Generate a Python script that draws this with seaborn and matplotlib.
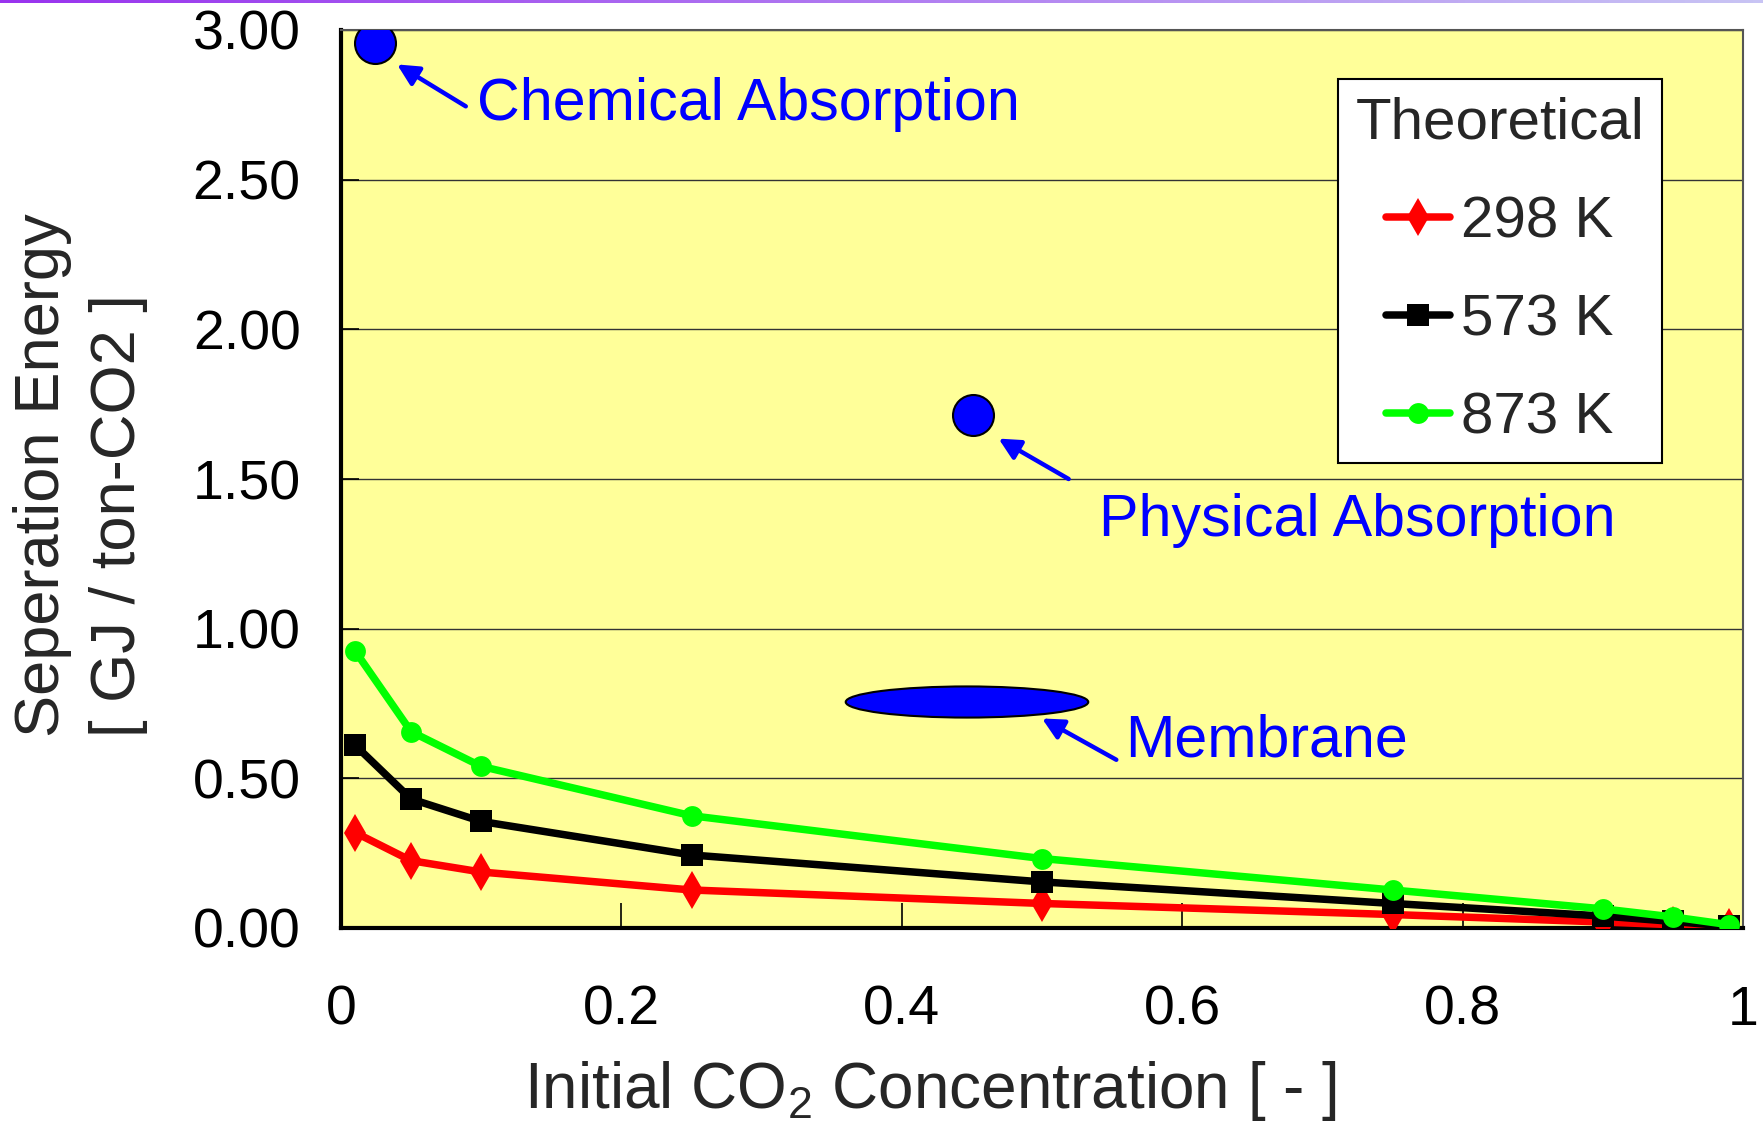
import numpy as np
import pandas as pd
import matplotlib
matplotlib.use("Agg")
import matplotlib.pyplot as plt
import seaborn as sns
from matplotlib.patches import Ellipse
from matplotlib.colors import LinearSegmentedColormap

# ---------------- data ----------------
conc = [0.01, 0.05, 0.10, 0.25, 0.50, 0.75, 0.90, 0.95, 0.99]
e_298 = [0.319, 0.225, 0.187, 0.127, 0.082, 0.045, 0.020, 0.011, 0.003]
e_573 = [0.611, 0.431, 0.356, 0.244, 0.154, 0.082, 0.040, 0.022, 0.006]
e_873 = [0.926, 0.656, 0.540, 0.375, 0.232, 0.127, 0.064, 0.037, 0.011]
series_names = ["298 K", "573 K", "873 K"]

method_names = ["Chemical Absorption", "Physical Absorption"]
method_x = [0.024, 0.451]
method_y = [2.955, 1.714]
membrane_name = "Membrane"
membrane_x_range = [0.360, 0.533]
membrane_y = 0.755

x_ticks = [0, 0.2, 0.4, 0.6, 0.8, 1.0]
x_ticklabels = ["0", "0.2", "0.4", "0.6", "0.8", "1"]
y_ticks = [0.0, 0.5, 1.0, 1.5, 2.0, 2.5, 3.0]
y_ticklabels = ["0.00", "0.50", "1.00", "1.50", "2.00", "2.50", "3.00"]

df = pd.DataFrame({
    "conc": conc * 3,
    "energy": e_298 + e_573 + e_873,
    "series": sum([[s] * len(conc) for s in series_names], []),
})

# ---------------- style ----------------
sns.set_theme(style="white")
plt.rcParams["font.family"] = ["Liberation Sans", "DejaVu Sans"]
plt.rcParams["mathtext.default"] = "regular"

W, H = 1763, 1126
fig = plt.figure(figsize=(W / 100, H / 100), dpi=100)
fig.patch.set_facecolor("white")

L, R, T, B = 341, 1743, 30, 928
ax = fig.add_axes([L / W, 1 - B / H, (R - L) / W, (B - T) / H])
ax.set_facecolor("#FFFF99")

# top gradient line
lax = fig.add_axes([0, 1 - 3 / H, 1, 3 / H])
grad = np.linspace(0, 1, 256)[None, :]
cm = LinearSegmentedColormap.from_list("g", ["#9933EE", "#C8C4F4"])
lax.imshow(grad, aspect="auto", cmap=cm)
lax.set_axis_off()

colors = {"298 K": "#FF0000", "573 K": "#000000", "873 K": "#00FF00"}
markers = {"298 K": "d", "573 K": "s", "873 K": "o"}
msizes = {"298 K": 19, "573 K": 15.5, "873 K": 15}

for s in series_names:
    sub = df[df["series"] == s]
    sns.lineplot(data=sub, x="conc", y="energy", ax=ax, color=colors[s],
                 marker=markers[s], markersize=msizes[s], markeredgewidth=0,
                 linewidth=5.4, label=s, sort=False, zorder=3)

# method points
sns.scatterplot(x=method_x, y=method_y, ax=ax, s=870, color="#0000FF",
                edgecolor="black", linewidth=1.5, zorder=4, legend=False)
mcx = (membrane_x_range[0] + membrane_x_range[1]) / 2
mw = membrane_x_range[1] - membrane_x_range[0]
ax.add_patch(Ellipse((mcx, membrane_y), mw, 0.104, facecolor="#0000FF",
                     edgecolor="black", linewidth=1.5, zorder=4))

# annotations
blue = "#0000FF"
ann_fs = 42.6
arrow = dict(arrowstyle="-|>", color=blue, lw=3.2, mutation_scale=32,
             shrinkA=0, shrinkB=0)
ax.annotate("", xy=(0.040, 2.885), xytext=(0.089, 2.745), arrowprops=arrow, zorder=5)
ax.text(0.097, 2.752, method_names[0], color=blue, fontsize=ann_fs, va="center", ha="left")
ax.annotate("", xy=(0.469, 1.635), xytext=(0.519, 1.50), arrowprops=arrow, zorder=5)
ax.text(0.541, 1.36, method_names[1], color=blue, fontsize=ann_fs, va="center", ha="left")
ax.annotate("", xy=(0.500, 0.700), xytext=(0.553, 0.562), arrowprops=arrow, zorder=5)
ax.text(0.559, 0.625, membrane_name, color=blue, fontsize=ann_fs, va="center", ha="left")

# axes
ax.set_xlim(0, 1)
ax.set_ylim(0, 3)
ax.set_xticks(x_ticks)
ax.set_xticklabels(x_ticklabels)
ax.set_yticks(y_ticks)
ax.set_yticklabels(y_ticklabels)
ax.tick_params(axis="x", direction="in", length=18, width=1.2, pad=41,
               labelsize=40, colors="black", bottom=True)
ax.tick_params(axis="y", direction="in", length=13, width=1.2, pad=29,
               labelsize=40, colors="black", left=True)
ax.set_xlabel("")
ax.set_ylabel("")
ax.yaxis.grid(True, color="#333333", linewidth=1.0)
ax.xaxis.grid(False)
ax.set_axisbelow(True)
for side in ["left", "bottom"]:
    ax.spines[side].set_color("black")
    ax.spines[side].set_linewidth(3)
for side in ["top", "right"]:
    ax.spines[side].set_color("#555555")
    ax.spines[side].set_linewidth(1.5)

leg = ax.legend(title="Theoretical", fontsize=42, title_fontsize=42,
                loc="upper right", bbox_to_anchor=(0.942, 0.945),
                borderaxespad=0,
                frameon=True, fancybox=False, framealpha=1, edgecolor="black",
                handlelength=1.1, handletextpad=0.2, labelspacing=0.76,
                borderpad=0.3)
leg.get_frame().set_linewidth(1.5)
leg.get_frame().set_facecolor("white")
leg.set_zorder(6)

fig.text(930 / W, 1 - 1091 / H, "Initial CO$_2$ Concentration [ - ]",
         fontsize=46, ha="center", va="center")
fig.text(43 / W, 1 - 737 / H, "Seperation Energy", fontsize=45.5,
         rotation=90, ha="center", va="bottom")
fig.text(118 / W, 1 - 737 / H, "[ GJ / ton-CO2 ]", fontsize=45.5,
         rotation=90, ha="center", va="bottom")

fig.savefig("out.png", dpi=100)
